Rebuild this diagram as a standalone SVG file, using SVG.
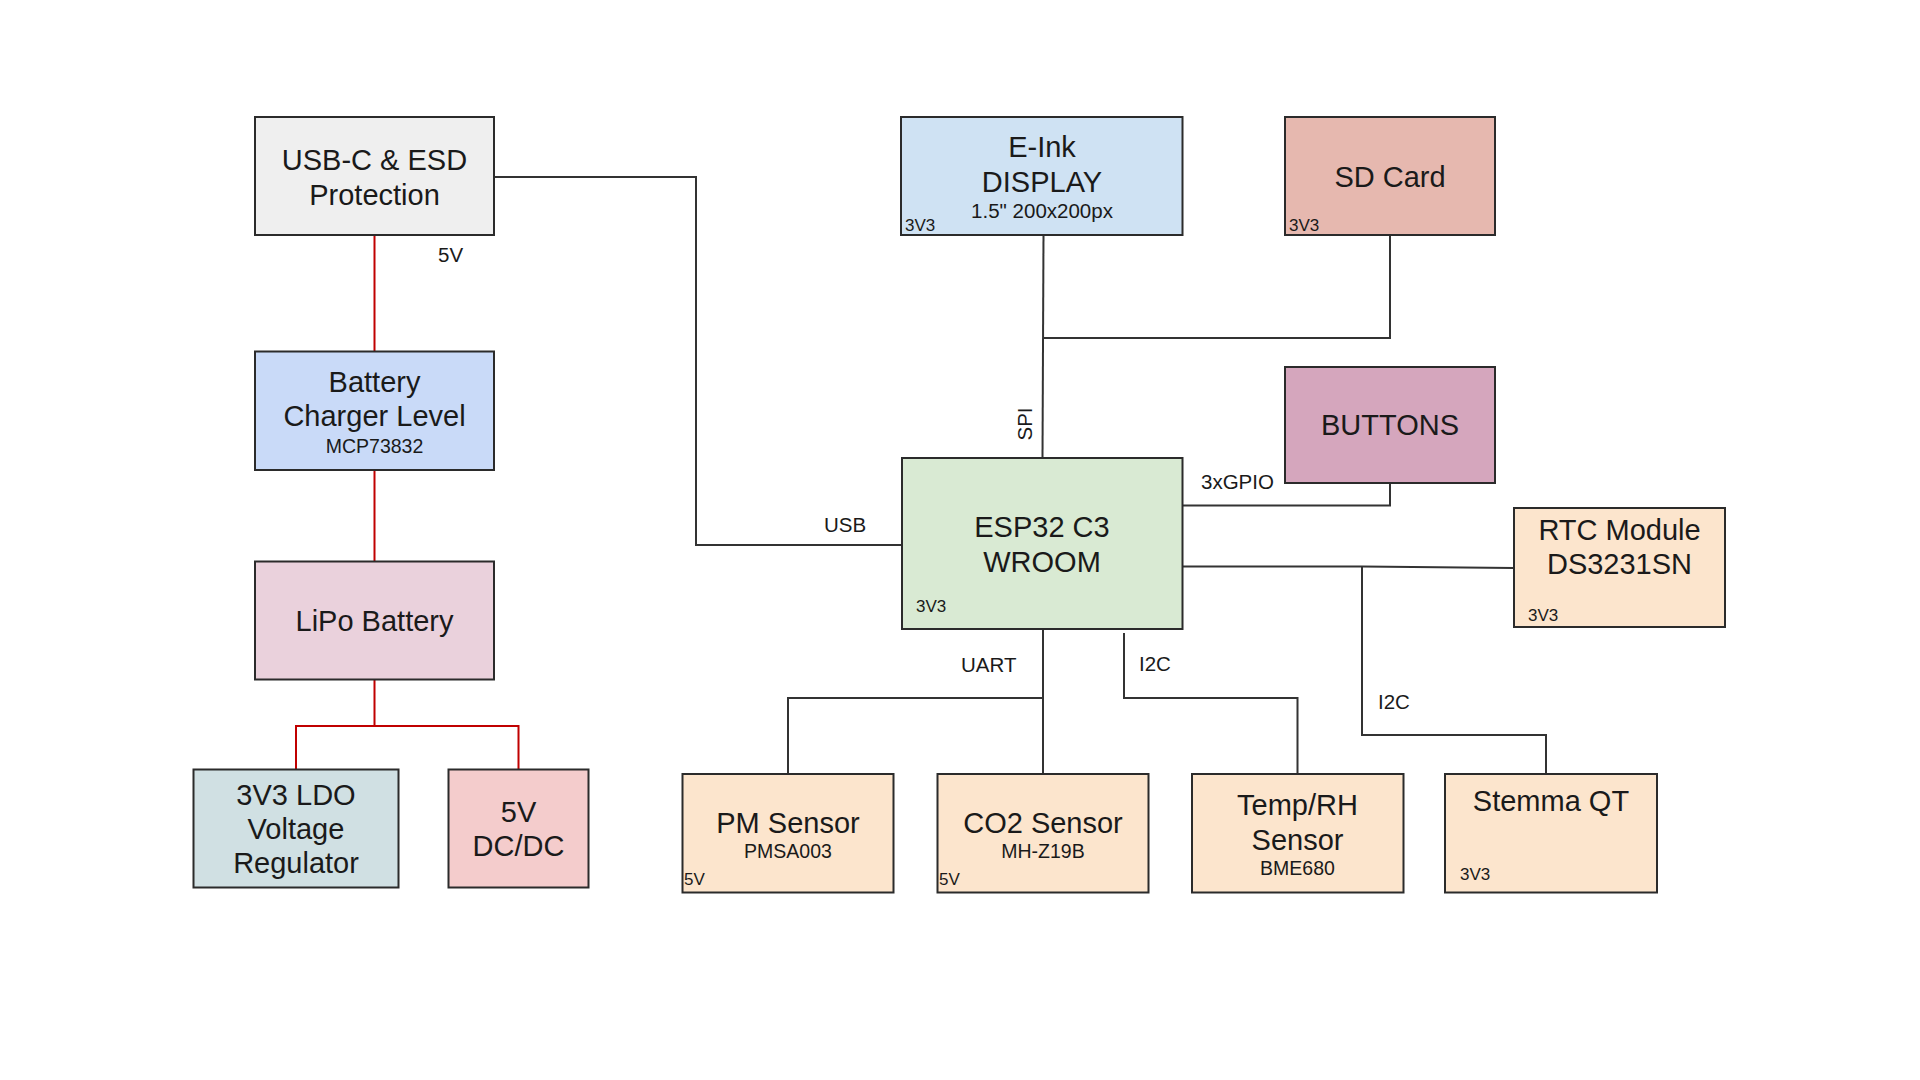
<svg xmlns="http://www.w3.org/2000/svg" width="1920" height="1080" viewBox="0 0 1920 1080">
<style>
  .box { stroke: #2b2b2b; stroke-width: 2; }
  .t { font-family: "Liberation Sans", Arial, sans-serif; fill: #1a1a1a; }
  .main { font-size: 29px; text-anchor: middle; }
  .sub { font-size: 19.5px; text-anchor: middle; }
  .small { font-size: 17px; }
  .lbl { font-size: 20.5px; }
  .wire { fill: none; stroke: #333333; stroke-width: 2; }
  .pwr { fill: none; stroke: #c00000; stroke-width: 2; }
</style>
<rect width="1920" height="1080" fill="#ffffff"/>

<g id="connectors">
  <path class="pwr" d="M374.5 235 V351.5"/>
  <path class="pwr" d="M374.5 470 V561.5"/>
  <path class="pwr" d="M374.5 679.5 V726 M296 769.5 V726 H518.5 V769.5"/>
  <path class="wire" d="M494 177 H696 V545 H902"/>
  <path class="wire" d="M1043.5 235 L1042.5 458"/>
  <path class="wire" d="M1390 235 V338 H1043"/>
  <path class="wire" d="M1182.5 505.5 H1390 V483"/>
  <path class="wire" d="M1180 566.5 H1362 L1514 568"/>
  <path class="wire" d="M1362 566.5 V735 H1546 V774"/>
  <path class="wire" d="M1043 629 V774 M1043 698 H788 V774"/>
  <path class="wire" d="M1124 633 V698 H1297.5 V774"/>
  <text class="t lbl" x="438" y="262">5V</text>
  <text class="t lbl" x="824" y="532">USB</text>
  <text class="t lbl" transform="translate(1032 424) rotate(-90)" text-anchor="middle">SPI</text>
  <text class="t lbl" x="1201" y="489">3xGPIO</text>
  <text class="t lbl" x="961" y="672">UART</text>
  <text class="t lbl" x="1139" y="671">I2C</text>
  <text class="t lbl" x="1378" y="709">I2C</text>
</g>

<g id="usbc">
  <rect class="box" x="255" y="117" width="239" height="118" fill="#efefef"/>
  <text class="t main" x="374.5" y="170">USB-C &amp; ESD</text>
  <text class="t main" x="374.5" y="204.5">Protection</text>
</g>
<g id="charger">
  <rect class="box" x="255" y="351.5" width="239" height="118.5" fill="#c9daf8"/>
  <text class="t main" x="374.5" y="392">Battery</text>
  <text class="t main" x="374.5" y="426">Charger Level</text>
  <text class="t sub" x="374.5" y="453">MCP73832</text>
</g>
<g id="lipo">
  <rect class="box" x="255" y="561.5" width="239" height="118" fill="#ead1dc"/>
  <text class="t main" x="374.5" y="630.5">LiPo Battery</text>
</g>
<g id="ldo">
  <rect class="box" x="193.5" y="769.5" width="205" height="118" fill="#d0e0e3"/>
  <text class="t main" x="296" y="804.5">3V3 LDO</text>
  <text class="t main" x="296" y="838.5">Voltage</text>
  <text class="t main" x="296" y="872.5">Regulator</text>
</g>
<g id="dcdc">
  <rect class="box" x="448.5" y="769.5" width="140" height="118" fill="#f4cccc"/>
  <text class="t main" x="518.5" y="821.5">5V</text>
  <text class="t main" x="518.5" y="856">DC/DC</text>
</g>
<g id="eink">
  <rect class="box" x="901" y="117" width="281.5" height="118" fill="#cfe2f3"/>
  <text class="t main" x="1042" y="157">E-Ink</text>
  <text class="t main" x="1042" y="192">DISPLAY</text>
  <text class="t sub" x="1042" y="218" style="font-size:20.5px">1.5" 200x200px</text>
  <text class="t small" x="905" y="231">3V3</text>
</g>
<g id="sdcard">
  <rect class="box" x="1285" y="117" width="210" height="118" fill="#e6b8af"/>
  <text class="t main" x="1390" y="186.5">SD Card</text>
  <text class="t small" x="1289" y="231">3V3</text>
</g>
<g id="buttons">
  <rect class="box" x="1285" y="367" width="210" height="116" fill="#d5a6bd"/>
  <text class="t main" x="1390" y="435">BUTTONS</text>
</g>
<g id="esp32">
  <rect class="box" x="902" y="458" width="280.5" height="171" fill="#d9ead3"/>
  <text class="t main" x="1042" y="537">ESP32 C3</text>
  <text class="t main" x="1042" y="572">WROOM</text>
  <text class="t small" x="916" y="612">3V3</text>
</g>
<g id="rtc">
  <rect class="box" x="1514" y="508" width="211" height="119" fill="#fce5cd"/>
  <text class="t main" x="1619.5" y="539.5">RTC Module</text>
  <text class="t main" x="1619.5" y="573.5">DS3231SN</text>
  <text class="t small" x="1528" y="621">3V3</text>
</g>
<g id="pm">
  <rect class="box" x="682.5" y="774" width="211" height="118.5" fill="#fce5cd"/>
  <text class="t main" x="788" y="833">PM Sensor</text>
  <text class="t sub" x="788" y="858">PMSA003</text>
  <text class="t small" x="684" y="885">5V</text>
</g>
<g id="co2">
  <rect class="box" x="937.5" y="774" width="211" height="118.5" fill="#fce5cd"/>
  <text class="t main" x="1043" y="833">CO2 Sensor</text>
  <text class="t sub" x="1043" y="858">MH-Z19B</text>
  <text class="t small" x="939" y="885">5V</text>
</g>
<g id="temprh">
  <rect class="box" x="1192" y="774" width="211.5" height="118.5" fill="#fce5cd"/>
  <text class="t main" x="1297.5" y="815">Temp/RH</text>
  <text class="t main" x="1297.5" y="850">Sensor</text>
  <text class="t sub" x="1297.5" y="875">BME680</text>
</g>
<g id="stemma">
  <rect class="box" x="1445" y="774" width="212" height="118.5" fill="#fce5cd"/>
  <text class="t main" x="1551" y="810.5">Stemma QT</text>
  <text class="t small" x="1460" y="880">3V3</text>
</g>
</svg>
